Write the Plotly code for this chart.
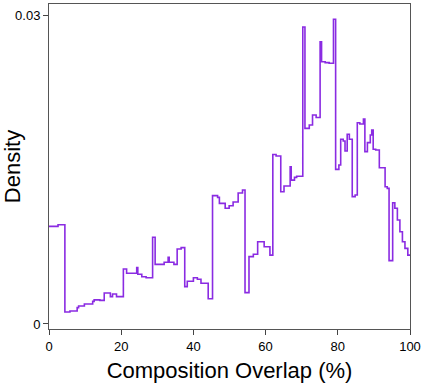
import plotly.graph_objects as go

overlap_pct = [0, 2.5, 4.4, 5.8, 7.8, 8.2, 9.8, 12.1, 12.5, 14.1, 15.3, 17.0, 17.6, 18.7,
               20.6, 21.5, 24.3, 24.6, 25.7, 26.9, 28.7, 29.4, 31.9, 33.0, 33.3, 34.6,
               35.5, 36.6, 37.6, 38.3, 40.0, 41.1, 42.1, 44.1, 45.3, 46.7, 47.2, 48.8,
               49.9, 51.0, 52.4, 53.6, 54.3, 55.4, 56.6, 57.8, 59.6, 61.2, 62.0, 62.9,
               64.2, 65.1, 66.8, 67.1, 68.0, 68.6, 70.3, 70.9, 72.1, 73.0, 74.0, 75.1,
               75.5, 76.5, 77.6, 78.8, 79.4, 80.3, 80.8, 81.5, 82.0, 82.6, 83.2, 84.0,
               84.8, 85.4, 86.1, 87.1, 87.5, 88.2, 89.0, 89.4, 89.8, 90.5, 91.5, 93.1,
               93.7, 94.2, 95.2, 95.8, 96.5, 97.2, 97.9, 98.6, 99.4, 100]
density = [0.0095, 0.00965, 0.00117, 0.00126, 0.00159, 0.00175, 0.00195, 0.0022, 0.00234,
           0.0023, 0.00302, 0.00266, 0.00292, 0.00266, 0.00535, 0.00493, 0.0055,
           0.00484, 0.0046, 0.0045, 0.00844, 0.0058, 0.0060, 0.0065, 0.0060, 0.0058,
           0.0073, 0.00743, 0.00363, 0.00415, 0.0045, 0.00435, 0.00396, 0.00246,
           0.01249, 0.01232, 0.01174, 0.01126, 0.0115, 0.01187, 0.01275, 0.01304,
           0.00305, 0.00655, 0.00678, 0.0080, 0.00752, 0.0067, 0.0165, 0.01635,
           0.01287, 0.01343, 0.0153, 0.0140, 0.01427, 0.01437, 0.0289, 0.01904,
           0.01936, 0.02034, 0.0201, 0.02747, 0.02552, 0.02543, 0.02537, 0.02965,
           0.01505, 0.01547, 0.01797, 0.0178, 0.01683, 0.01846, 0.01797, 0.01239,
           0.01255, 0.01959, 0.01946, 0.01995, 0.01677, 0.01765, 0.01839, 0.01888,
           0.0170, 0.01693, 0.01521, 0.01336, 0.0132, 0.00616, 0.0118, 0.01126,
           0.01012, 0.00898, 0.0080, 0.00736, 0.0067, 0.0067]

x_ticks = [0, 20, 40, 60, 80, 100]
y_ticks = [0, 0.03]
y_tick_text = ["0", "0.03"]

fig = go.Figure()
fig.add_trace(go.Scatter(
    x=overlap_pct, y=density, mode="lines",
    line=dict(color="#8A2BE2", width=1.6, shape="hv"),
    showlegend=False,
))

font_family = "Liberation Sans, Arial, Helvetica, sans-serif"
fig.update_layout(
    width=421, height=383,
    margin=dict(l=49, r=11, t=4, b=54),
    paper_bgcolor="white", plot_bgcolor="white",
    font=dict(family=font_family, color="black", size=13),
)
fig.update_xaxes(
    range=[0, 100], tickvals=x_ticks, ticks="outside", ticklen=5,
    tickcolor="#444", showgrid=False, zeroline=False, automargin=False,
    showline=True, linecolor="#555", linewidth=1, mirror=True,
    title=dict(text="Composition Overlap (%)", font=dict(size=22)),
    tickfont=dict(size=13),
)
fig.update_yaxes(
    range=[-0.00049, 0.03114], tickvals=y_ticks, ticktext=y_tick_text,
    ticks="outside", ticklen=5, tickcolor="#444", showgrid=False, zeroline=False,
    automargin=False,
    showline=True, linecolor="#555", linewidth=1, mirror=True,
    title=dict(text="Density", font=dict(size=22)),
    tickfont=dict(size=13),
)

fig.write_html(
    "out.html",
    config={"displayModeBar": False},
    post_script="document.body.style.margin='0';document.body.style.overflow='hidden';",
)
